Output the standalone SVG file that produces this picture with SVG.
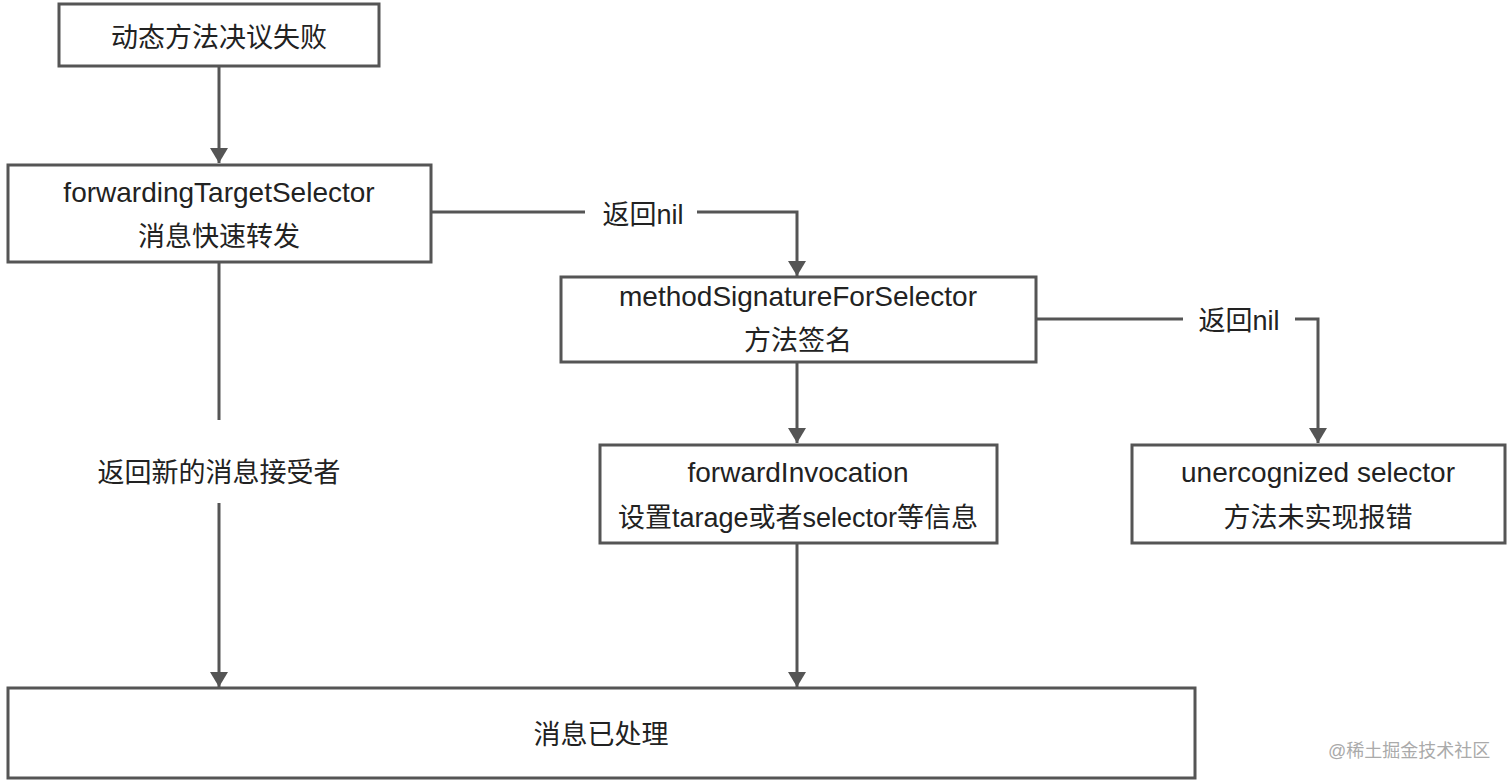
<svg xmlns="http://www.w3.org/2000/svg" width="1512" height="782" viewBox="0 0 1512 782">
<defs>
<marker id="arr" markerWidth="6" markerHeight="6" refX="5" refY="3" orient="auto" markerUnits="strokeWidth">
<path d="M0,0 L5,3 L0,6 Z" fill="#555"/>
</marker>
<style>
.box{fill:#fff;stroke:#555;stroke-width:3}
.t{font-family:"Liberation Sans","Noto Sans CJK SC",sans-serif;font-size:27px;fill:#222;text-anchor:middle}
.l{font-size:28px}
.c{fill:none;stroke:#555;stroke-width:3}
.wm{font-family:"Liberation Sans","Noto Sans CJK SC",sans-serif;font-size:18px;fill:#aaa}
</style>
</defs>
<rect width="1512" height="782" fill="#fff"/>
<g id="connectors">
<path class="c" d="M219,66 V163" marker-end="url(#arr)"/>
<path class="c" d="M431,212 H585 M697,212 H797 V276" marker-end="url(#arr)"/>
<path class="c" d="M1036,319 H1183 M1295,319 H1318 V443" marker-end="url(#arr)"/>
<path class="c" d="M797,362 V443" marker-end="url(#arr)"/>
<path class="c" d="M797,543 V687" marker-end="url(#arr)"/>
<path class="c" d="M219,262 V420 M219,503 V687" marker-end="url(#arr)"/>
<text class="t" x="643" y="224">返回nil</text>
<text class="t" x="1239" y="330">返回nil</text>
<text class="t" x="219" y="482">返回新的消息接受者</text>
</g>
<g id="n1"><rect class="box" x="59" y="4" width="320" height="62"/><text class="t" x="219" y="47">动态方法决议失败</text></g>
<g id="n2"><rect class="box" x="8" y="165" width="423" height="97"/><text class="t l" x="219" y="202">forwardingTargetSelector</text><text class="t" x="219" y="246">消息快速转发</text></g>
<g id="n3"><rect class="box" x="561" y="277" width="475" height="85"/><text class="t l" x="798" y="306">methodSignatureForSelector</text><text class="t" x="798" y="350">方法签名</text></g>
<g id="n4"><rect class="box" x="600" y="445" width="397" height="98"/><text class="t l" x="798" y="482">forwardInvocation</text><text class="t" x="798" y="527">设置tarage或者selector等信息</text></g>
<g id="n5"><rect class="box" x="1132" y="445" width="373" height="98"/><text class="t l" x="1318" y="482">unercognized selector</text><text class="t" x="1318" y="527">方法未实现报错</text></g>
<g id="n6"><rect class="box" x="8" y="688" width="1187" height="90"/><text class="t" x="601" y="744">消息已处理</text></g>
<text class="wm" x="1328" y="757">@稀土掘金技术社区</text>
</svg>
